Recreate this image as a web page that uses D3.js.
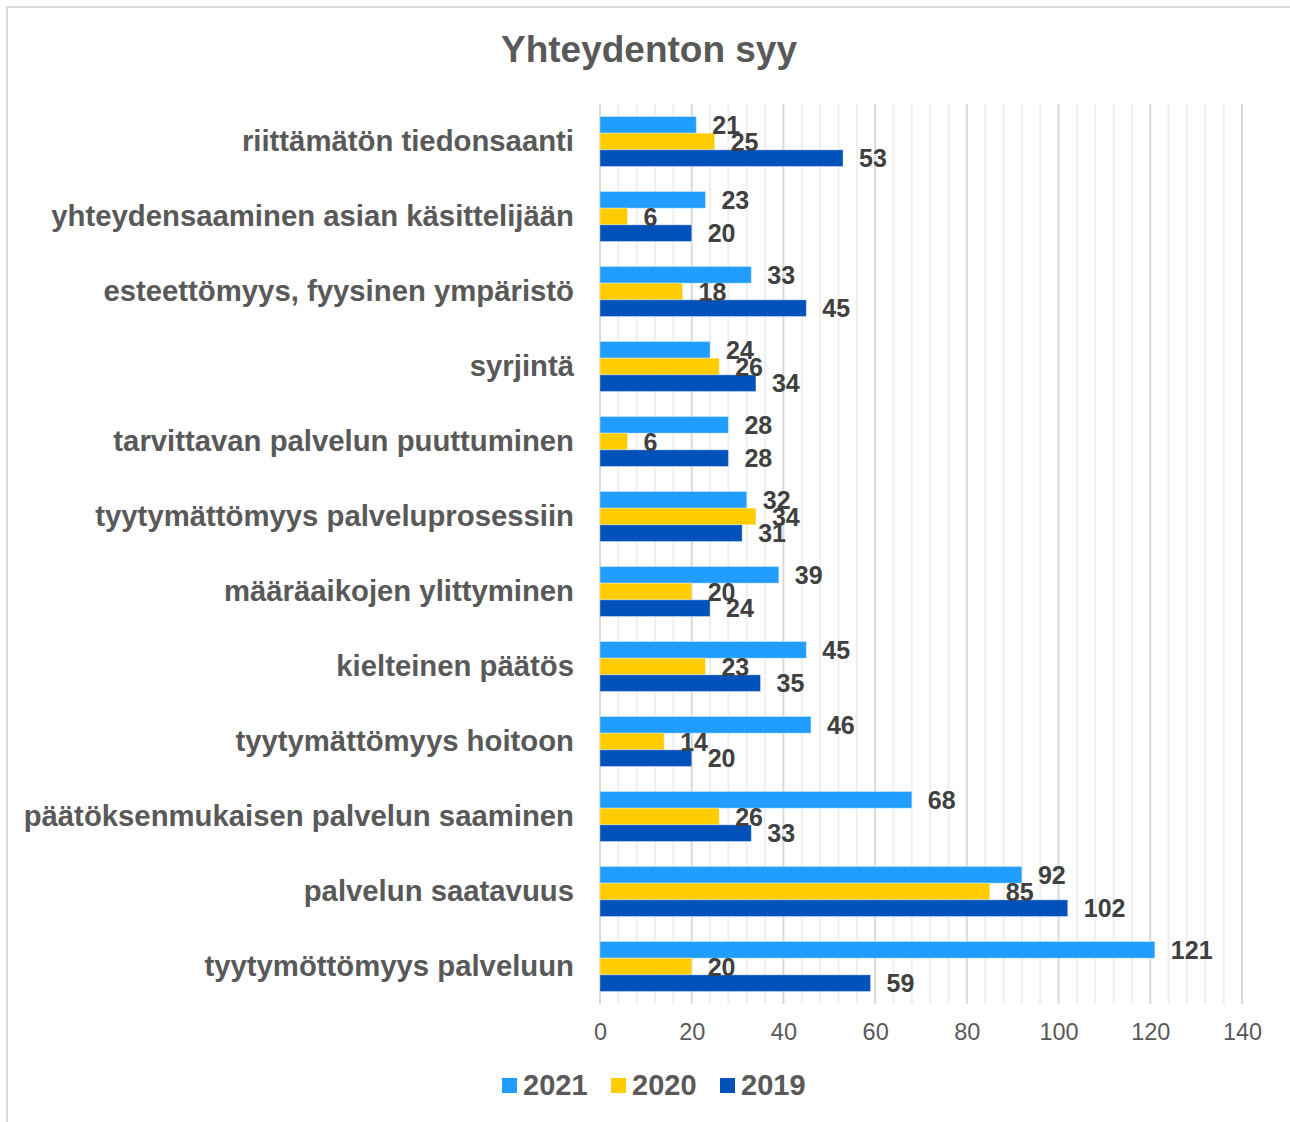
<!DOCTYPE html>
<html>
<head>
<meta charset="utf-8">
<script src="https://cdn.jsdelivr.net/npm/d3@7"></script>
<style>
  body { margin: 0; background: #fff; }
  text { font-family: "Liberation Sans", Arial, sans-serif; }
</style>
</head>
<body>
<div id="chart-container"></div>
<script>
// Data for the chart
let categories = [
  "riittämätön tiedonsaanti",
  "yhteydensaaminen asian käsittelijään",
  "esteettömyys, fyysinen ympäristö",
  "syrjintä",
  "tarvittavan palvelun puuttuminen",
  "tyytymättömyys palveluprosessiin",
  "määräaikojen ylittyminen",
  "kielteinen päätös",
  "tyytymättömyys hoitoon",
  "päätöksenmukaisen palvelun saaminen",
  "palvelun saatavuus",
  "tyytymöttömyys palveluun"
];
let series = ["2021", "2020", "2019"];
let values2021 = [21, 23, 33, 24, 28, 32, 39, 45, 46, 68, 92, 121];
let values2020 = [25, 6, 18, 26, 6, 34, 20, 23, 14, 26, 85, 20];
let values2019 = [53, 20, 45, 34, 28, 31, 24, 35, 20, 33, 102, 59];
let xTicks = [0, 20, 40, 60, 80, 100, 120, 140];
let colors = ["#209dff", "#ffcc00", "#0052ba"];

let width = 1290,
    height = 1122,
    plotLeft = 600,
    plotRight = 1242,
    plotTop = 104,
    plotBottom = 1004;

let svg = d3.select("#chart-container")
    .append("svg")
    .attr("width", width)
    .attr("height", height);

// chart border
svg.append("rect")
    .attr("x", 7).attr("y", 7)
    .attr("width", width + 20).attr("height", height + 20)
    .attr("fill", "none")
    .attr("stroke", "#d9d9d9")
    .attr("stroke-width", 2);

let x = d3.scaleLinear().domain([0, 140]).range([plotLeft, plotRight]);

let y0 = d3.scaleBand()
    .domain(categories)
    .range([plotTop, plotBottom])
    .paddingInner(1 / 3)
    .paddingOuter(1 / 6);

let y1 = d3.scaleBand().domain(series).range([0, y0.bandwidth()]);

// Title
svg.append("text")
    .attr("x", 649)
    .attr("y", 62)
    .attr("text-anchor", "middle")
    .attr("font-size", 37)
    .attr("font-weight", "bold")
    .attr("fill", "#595959")
    .text("Yhteydenton syy");

// Gridlines, minor then major
svg.append("g")
    .selectAll("line")
    .data(d3.range(0, 141, 4).filter(function(d) { return d % 20 !== 0; }))
    .enter()
    .append("line")
    .attr("x1", function(d) { return x(d); })
    .attr("x2", function(d) { return x(d); })
    .attr("y1", plotTop)
    .attr("y2", plotBottom)
    .attr("stroke", "#efefef")
    .attr("stroke-width", 2);

svg.append("g")
    .selectAll("line")
    .data(xTicks)
    .enter()
    .append("line")
    .attr("x1", function(d) { return x(d); })
    .attr("x2", function(d) { return x(d); })
    .attr("y1", plotTop)
    .attr("y2", plotBottom)
    .attr("stroke", "#d9d9d9")
    .attr("stroke-width", 2);

// x axis
let xAxis = d3.axisBottom(x).tickValues(xTicks).tickSize(0).tickPadding(19);
let gx = svg.append("g")
    .attr("transform", `translate(0,${plotBottom})`)
    .call(xAxis);
gx.select(".domain").remove();
gx.selectAll("text")
    .attr("font-size", 23.5)
    .attr("fill", "#595959")
    .style("font-family", "'Liberation Sans', Arial, sans-serif");

// y axis (category labels)
let yAxis = d3.axisLeft(y0).tickSize(0).tickPadding(26);
let gy = svg.append("g")
    .attr("transform", `translate(${plotLeft},0)`)
    .call(yAxis);
gy.select(".domain").remove();
gy.selectAll("text")
    .attr("font-size", 29.3)
    .attr("font-weight", "bold")
    .attr("fill", "#595959")
    .style("font-family", "'Liberation Sans', Arial, sans-serif");

// Build rows for the bars
let table = categories.map(function(c, i) {
  return {
    category: c,
    values: [
      { key: "2021", value: values2021[i] },
      { key: "2020", value: values2020[i] },
      { key: "2019", value: values2019[i] }
    ]
  };
});

let groups = svg.append("g")
    .selectAll("g")
    .data(table)
    .enter()
    .append("g")
    .attr("transform", function(d) { return `translate(0,${y0(d.category)})`; });

// Draw the bars
groups.selectAll("rect")
    .data(function(d) { return d.values; })
    .enter()
    .append("rect")
    .attr("x", x(0))
    .attr("y", function(d) { return y1(d.key); })
    .attr("width", function(d) { return x(d.value) - x(0); })
    .attr("height", y1.bandwidth())
    .attr("fill", function(d, i) { return colors[i]; })
    .attr("stroke", "#ffffff")
    .attr("stroke-opacity", 0.35)
    .attr("stroke-width", 1);

// Data labels
groups.selectAll("text.lbl")
    .data(function(d) { return d.values; })
    .enter()
    .append("text")
    .attr("class", "lbl")
    .attr("x", function(d) { return x(d.value) + 16; })
    .attr("y", function(d) { return y1(d.key) + y1.bandwidth() / 2; })
    .attr("dy", "0.36em")
    .attr("font-size", 25)
    .attr("font-weight", "bold")
    .attr("fill", "#404040")
    .text(function(d) { return d.value; });

// Legend
let legend = svg.append("g")
    .selectAll("g")
    .data(series)
    .enter()
    .append("g")
    .attr("transform", function(d, i) { return `translate(${502 + i * 109},1078)`; });

legend.append("rect")
    .attr("width", 15)
    .attr("height", 15)
    .attr("fill", function(d, i) { return colors[i]; });

legend.append("text")
    .attr("x", 21)
    .attr("y", 17)
    .attr("font-size", 29)
    .attr("font-weight", "bold")
    .attr("fill", "#595959")
    .text(function(d) { return d; });
</script>
</body>
</html>
